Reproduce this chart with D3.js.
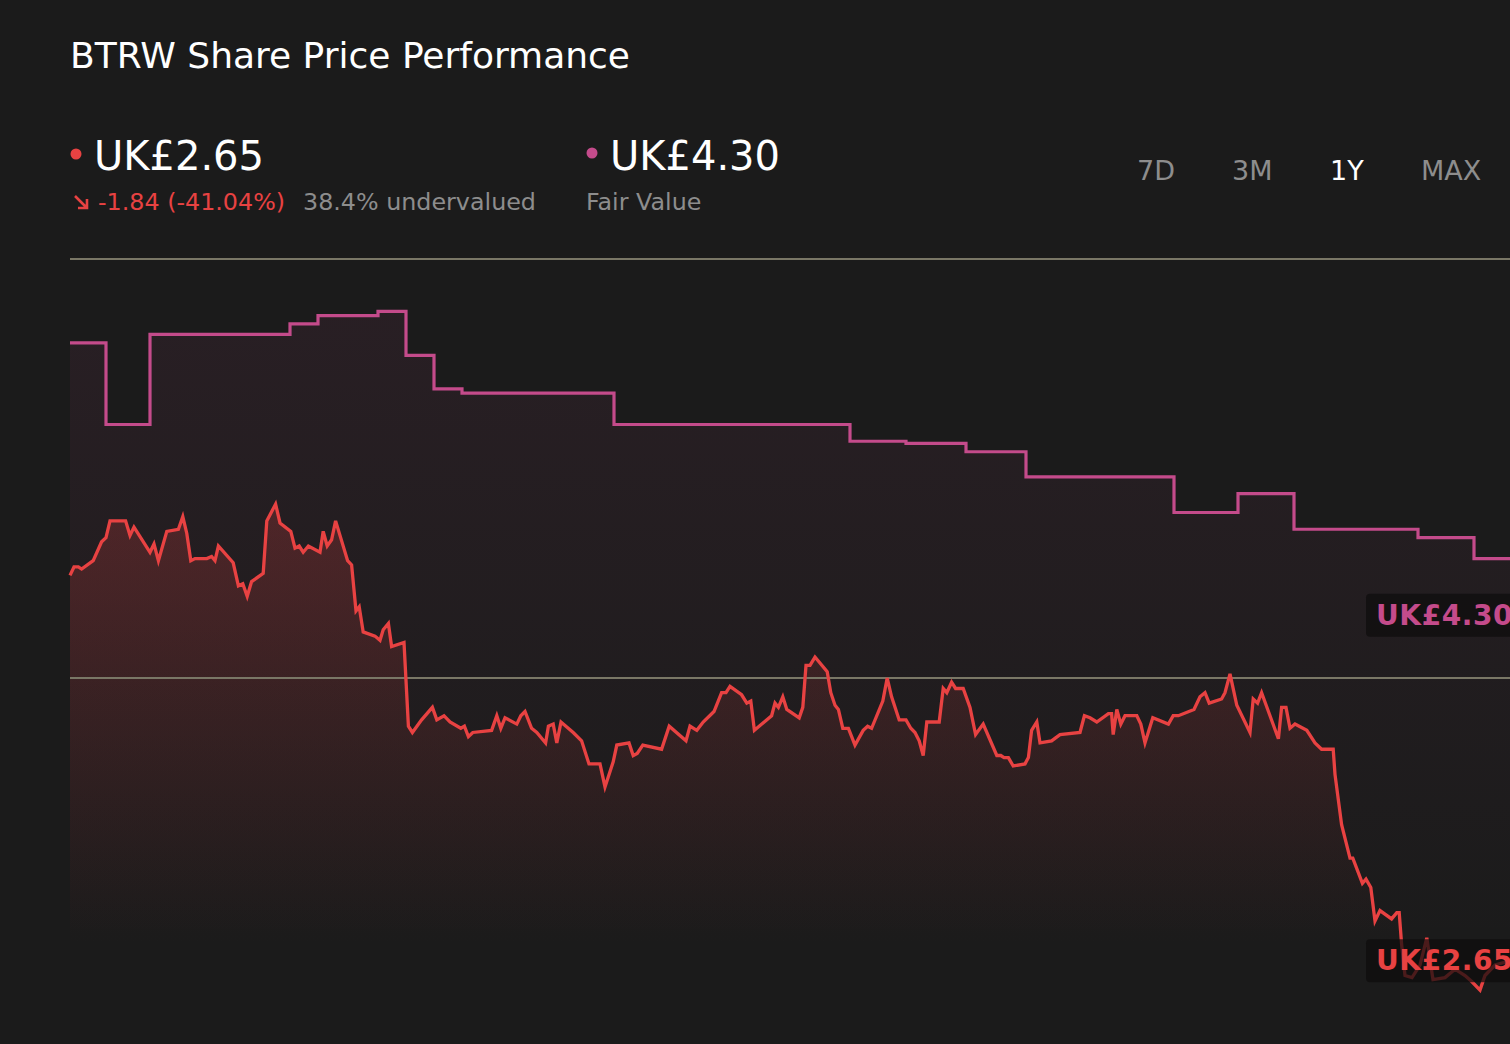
<!DOCTYPE html>
<html>
<head>
<meta charset="utf-8">
<script src="https://cdn.jsdelivr.net/npm/d3@7"></script>
<style>
  html, body { margin: 0; padding: 0; background: #1b1b1b; overflow: hidden; }
  svg { display: block; font-family: "DejaVu Sans", sans-serif; }
</style>
</head>
<body>
<svg id="chart" width="1510" height="1044"></svg>
<script>
// ---------------- DATA ----------------
const title = "BTRW Share Price Performance";
const currentPrice = 2.65;
const fairValue = 4.30;
const priceChange = -1.84;
const priceChangePct = -41.04;
const undervaluedPct = 38.4;
const rangeLabels = ["7D", "3M", "1Y", "MAX"];
const activeRange = "1Y";
const gridValues = [4, 6];

// days since start of the 1Y window
const priceDays = [0,1,2.1,2.9,5.8,7.9,9,10,13.9,15,
  16,20,21,22.1,24.2,27.1,28.2,29.2,30.2,31.25,
  34.2,35.4,36.25,37.1,40.8,42.1,43.2,44.3,45.4,48.3,
  49.2,51.4,52.5,55.2,56.25,57.3,58.3,59.6,62.5,63.3,
  64.3,65.4,66.4,69.4,70.4,71.5,72.3,73.3,76.25,77.5,
  78.3,79.6,80.4,83.5,84.6,85.6,87.9,90.6,91.7,93.5,
  95,97.7,98.6,99.6,100.7,105.4,106.7,107.7,108.75,111.7,
  112.7,113.75,115.4,116.7,118.9,119.6,120.8,121.7,122.75,125.8,
  127.9,129.75,132.5,133.75,135.8,136.7,139.75,140.8,141.8,143.2,
  147.9,149.8,154,155,156.7,158.3,161,162.9,164,165,
  167.9,169.2,170.2,171.1,175.4,176.25,177.1,178.2,179.2,182.3,
  183.2,184,185,186.25,189.3,190.2,191.25,192.1,193.2,194.6,
  196.25,198.3,199.4,200.4,203.2,204.3,205.4,207.3,209,210.2,
  211.25,212.3,213.3,214.2,217.3,218.3,219.2,220.4,221.4,223.3,
  225,226.4,228.3,231.7,232.7,233.5,234.6,235.8,238.75,239.6,
  240.4,241.7,242.5,245.4,247.5,252.5,253.6,255,256.7,259.6,
  260.4,260.8,261.7,262.7,263.75,266.7,267.7,268.75,270.7,274.6,
  275.8,277.1,281,282.5,283.75,284.8,287.9,288.75,290,291.7,
  295,295.8,296.9,297.9,302.1,302.9,304,305,306.25,309.2,
  311.25,312.9,315.8,316.25,317.9,320,320.7,323.1,324,325.2,
  326.25,327.5,330.4,331.7,332.3,332.9,333.75,335.5,337.5,339.2,
  340.75,343.75,346.25,348.75,350.5,352.5,353.75,356.25,360];

const priceValues = [4.49,4.53,4.53,4.52,4.56,4.65,4.67,4.75,4.75,4.68,
  4.72,4.60,4.64,4.56,4.70,4.71,4.77,4.69,4.56,4.57,
  4.57,4.58,4.56,4.63,4.55,4.44,4.45,4.39,4.46,4.50,
  4.75,4.83,4.74,4.70,4.62,4.63,4.60,4.63,4.60,4.70,
  4.63,4.66,4.75,4.56,4.54,4.32,4.34,4.22,4.20,4.18,
  4.23,4.26,4.15,4.17,3.77,3.74,3.80,3.86,3.80,3.82,
  3.79,3.76,3.77,3.72,3.74,3.75,3.82,3.76,3.81,3.78,
  3.82,3.84,3.76,3.74,3.69,3.77,3.78,3.69,3.79,3.74,
  3.70,3.59,3.59,3.48,3.60,3.68,3.69,3.63,3.64,3.68,
  3.66,3.77,3.70,3.77,3.75,3.79,3.84,3.93,3.93,3.96,
  3.92,3.88,3.89,3.75,3.82,3.88,3.86,3.91,3.85,3.81,
  3.86,4.06,4.06,4.10,4.03,3.93,3.87,3.85,3.76,3.76,
  3.68,3.75,3.77,3.76,3.89,4.00,3.91,3.80,3.80,3.76,
  3.74,3.70,3.63,3.79,3.79,3.95,3.93,3.98,3.95,3.95,
  3.86,3.73,3.78,3.63,3.63,3.62,3.62,3.58,3.59,3.62,
  3.75,3.79,3.69,3.70,3.73,3.74,3.82,3.81,3.79,3.83,
  3.83,3.73,3.85,3.78,3.82,3.82,3.78,3.69,3.81,3.78,
  3.82,3.82,3.85,3.91,3.93,3.88,3.90,3.93,4.02,3.87,
  3.74,3.90,3.88,3.93,3.71,3.86,3.86,3.76,3.78,3.75,
  3.69,3.66,3.66,3.54,3.30,3.14,3.14,3.02,3.04,3.00,
  2.84,2.89,2.85,2.88,2.88,2.73,2.58,2.57,2.63,2.76,
  2.56,2.57,2.61,2.58,2.55,2.51,2.58,2.63,2.65];

// fair value estimate steps (value holds from that day on)
const fvDays   = [0, 9, 20, 55, 62, 77, 84, 91, 98, 136, 195, 209, 224, 239, 276, 292, 306, 337, 351, 360];
const fvValues = [5.60, 5.21, 5.64, 5.69, 5.73, 5.75, 5.54, 5.38, 5.36, 5.21, 5.13, 5.12, 5.08, 4.96, 4.79, 4.88, 4.71, 4.67, 4.57, 4.57];

// ---------------- STYLE ----------------
const C = {
  bg: "#1b1b1b",
  price: "#e84242",
  fair: "#c44b8b",
  grid: "#7a7766",
  white: "#ffffff",
  gray: "#8d8d8d"
};

const svg = d3.select("#chart");
const W = 1510, H = 1044;
const plotLeft = 70, plotRight = 1510, plotBottom = 945;

svg.append("rect").attr("width", W).attr("height", H).attr("fill", C.bg);

const x = d3.scaleLinear().domain([0, 360]).range([plotLeft, plotRight]);
const y = d3.scaleLinear().domain([4, 6]).range([678, 259]);

const price = priceDays.map((d, i) => ({ d, v: priceValues[i] }));
const fair = fvDays.map((d, i) => ({ d, v: fvValues[i] }));

const defs = svg.append("defs");
const gP = defs.append("linearGradient").attr("id", "gPrice")
  .attr("gradientUnits", "userSpaceOnUse").attr("x1", 0).attr("x2", 0).attr("y1", 500).attr("y2", plotBottom);
gP.append("stop").attr("offset", 0).attr("stop-color", C.price).attr("stop-opacity", 0.22);
gP.append("stop").attr("offset", 1).attr("stop-color", C.price).attr("stop-opacity", 0);
const gF = defs.append("linearGradient").attr("id", "gFair")
  .attr("gradientUnits", "userSpaceOnUse").attr("x1", 0).attr("x2", 0).attr("y1", 310).attr("y2", plotBottom);
gF.append("stop").attr("offset", 0).attr("stop-color", C.fair).attr("stop-opacity", 0.08);
gF.append("stop").attr("offset", 1).attr("stop-color", C.fair).attr("stop-opacity", 0);

// areas
svg.append("path").datum(fair)
  .attr("d", d3.area().curve(d3.curveStepAfter).x(p => x(p.d)).y0(plotBottom).y1(p => y(p.v)))
  .attr("fill", "url(#gFair)");
svg.append("path").datum(price)
  .attr("d", d3.area().x(p => x(p.d)).y0(plotBottom).y1(p => y(p.v)))
  .attr("fill", "url(#gPrice)");

// gridlines
svg.append("g").selectAll("line").data(gridValues).join("line")
  .attr("x1", plotLeft).attr("x2", plotRight)
  .attr("y1", d => y(d)).attr("y2", d => y(d))
  .attr("stroke", C.grid).attr("stroke-width", 2);

// lines
svg.append("path").datum(fair)
  .attr("d", d3.line().curve(d3.curveStepAfter).x(p => x(p.d)).y(p => y(p.v)))
  .attr("fill", "none").attr("stroke", C.fair).attr("stroke-width", 3.2);
svg.append("path").datum(price)
  .attr("d", d3.line().x(p => x(p.d)).y(p => y(p.v)))
  .attr("fill", "none").attr("stroke", C.price).attr("stroke-width", 3.3)
  .attr("stroke-linejoin", "miter");

// value labels at right
const fmt = v => "UK£" + v.toFixed(2);
[[fairValue, C.fair], [currentPrice, C.price]].forEach(([v, col]) => {
  const cy = y(v);
  svg.append("rect").attr("x", 1366).attr("y", cy - 21.5).attr("width", 160).attr("height", 43)
    .attr("rx", 4).attr("fill", "rgba(14,12,12,0.72)");
  svg.append("text").attr("x", 1376).attr("y", cy + 9.5)
    .attr("fill", col).attr("font-size", 28).attr("font-weight", "bold")
    .attr("letter-spacing", 0.6).text(fmt(v));
});

// header
svg.append("text").attr("x", 70).attr("y", 68).attr("fill", C.white)
  .attr("font-size", 36).text(title);

svg.append("circle").attr("cx", 76).attr("cy", 154).attr("r", 5.5).attr("fill", C.price);
svg.append("text").attr("x", 94).attr("y", 170).attr("fill", C.white)
  .attr("font-size", 40).text(fmt(currentPrice));

svg.append("circle").attr("cx", 592).attr("cy", 153).attr("r", 5.5).attr("fill", C.fair);
svg.append("text").attr("x", 610).attr("y", 170).attr("fill", C.white)
  .attr("font-size", 40).text(fmt(fairValue));

// down arrow icon
svg.append("path").attr("d", "M75,196 L87,208 M78,208 L87,208 L87,199")
  .attr("fill", "none").attr("stroke", C.price).attr("stroke-width", 2.6);
svg.append("text").attr("x", 98).attr("y", 210).attr("fill", C.price).attr("font-size", 23.8)
  .text(`${priceChange.toFixed(2)} (${priceChangePct.toFixed(2)}%)`);
svg.append("text").attr("x", 303).attr("y", 210).attr("fill", C.gray).attr("font-size", 23.8)
  .text(`${undervaluedPct}% undervalued`);
svg.append("text").attr("x", 586).attr("y", 210).attr("fill", C.gray).attr("font-size", 23.8)
  .text("Fair Value");

// range buttons
const btnX = [1137, 1232, 1330, 1421];
svg.append("g").selectAll("text").data(rangeLabels).join("text")
  .attr("x", (d, i) => btnX[i]).attr("y", 180)
  .attr("font-size", 27)
  .attr("fill", d => d === activeRange ? C.white : C.gray)
  .text(d => d);
</script>
</body>
</html>
